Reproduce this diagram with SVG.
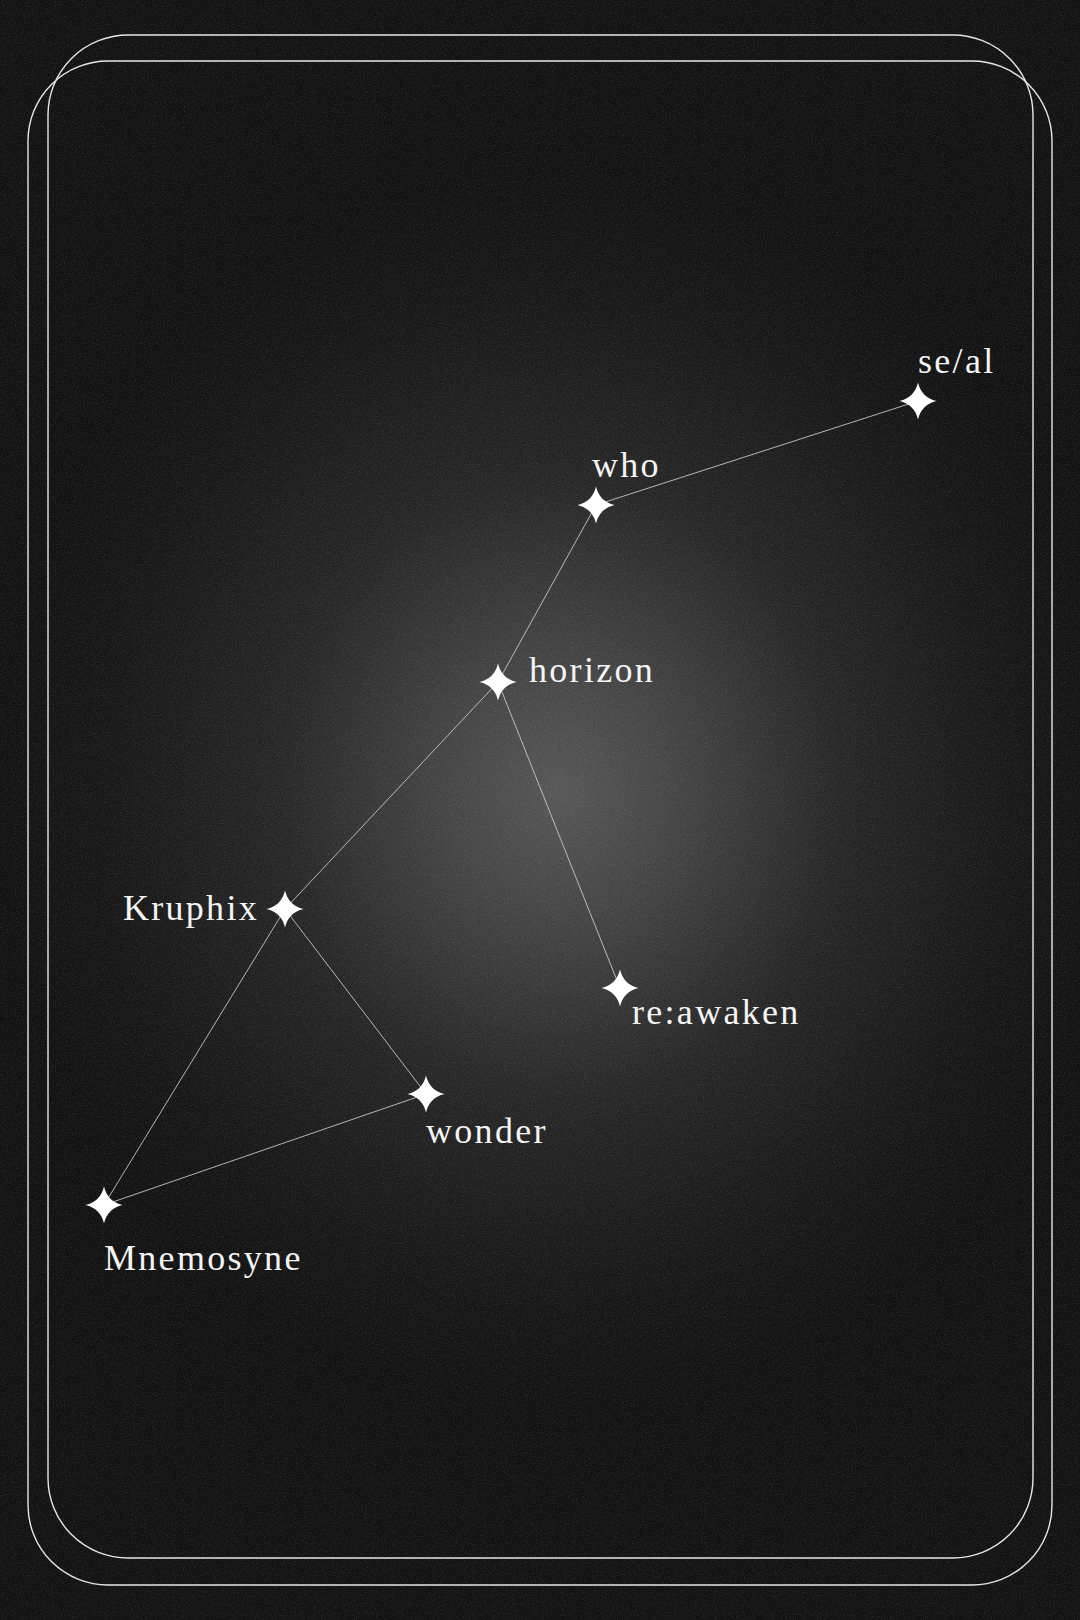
<svg xmlns="http://www.w3.org/2000/svg" width="1080" height="1620" viewBox="0 0 1080 1620">
  <defs>
    <radialGradient id="bg" gradientUnits="userSpaceOnUse" cx="560" cy="790" r="560" gradientTransform="translate(560 790) scale(1 1.1) translate(-560 -790)">
      <stop offset="0" stop-color="#575757"/>
      <stop offset="0.22" stop-color="#444444"/>
      <stop offset="0.5" stop-color="#272727"/>
      <stop offset="0.8" stop-color="#181818"/>
      <stop offset="1" stop-color="#121212"/>
    </radialGradient>
    <filter id="grain" x="0" y="0" width="100%" height="100%">
      <feTurbulence type="fractalNoise" baseFrequency="0.9" numOctaves="2" seed="3" result="n"/>
      <feColorMatrix type="matrix" values="0 0 0 0 1  0 0 0 0 1  0 0 0 0 1  0 0 0 -2.2 1.25" />
    </filter>
    <path id="star" d="M0,-18.5 Q3.5,-3.5 18.5,0 Q3.5,3.5 0,18.5 Q-3.5,3.5 -18.5,0 Q-3.5,-3.5 0,-18.5 Z"/>
  </defs>
  <style>
    .frame { fill: none; stroke: #e6e6e6; stroke-width: 1.4; }
    .edge { stroke: #cfcfcf; stroke-width: 1; stroke-opacity: 0.85; fill: none; }
    .star { fill: #ffffff; }
    .label { font-family: "Liberation Serif", "Times New Roman", serif; font-size: 36px; letter-spacing: 2.3px; fill: #f4f4f4; }
  </style>

  <rect width="1080" height="1620" fill="#121212"/>
  <rect width="1080" height="1620" fill="url(#bg)"/>
  <rect width="1080" height="1620" filter="url(#grain)" opacity="0.1"/>

  <g id="frames">
    <rect class="frame" x="48" y="35" width="985" height="1523" rx="80" ry="80"/>
    <rect class="frame" x="28" y="61" width="1024" height="1524" rx="80" ry="80"/>
  </g>

  <g id="connectors">
    <line class="edge" x1="596" y1="505" x2="918" y2="401"/>
    <line class="edge" x1="596" y1="505" x2="498" y2="682"/>
    <line class="edge" x1="498" y1="682" x2="285" y2="909"/>
    <line class="edge" x1="498" y1="682" x2="620" y2="988"/>
    <line class="edge" x1="285" y1="909" x2="426" y2="1094"/>
    <line class="edge" x1="285" y1="909" x2="104" y2="1205"/>
    <line class="edge" x1="426" y1="1094" x2="104" y2="1205"/>
  </g>

  <g id="node-seal">
    <use href="#star" class="star" x="918" y="401"/>
    <text class="label" x="918" y="373">se/al</text>
  </g>
  <g id="node-who">
    <use href="#star" class="star" x="596" y="505"/>
    <text class="label" x="592" y="477">who</text>
  </g>
  <g id="node-horizon">
    <use href="#star" class="star" x="498" y="682"/>
    <text class="label" x="529" y="682">horizon</text>
  </g>
  <g id="node-kruphix">
    <use href="#star" class="star" x="285" y="909"/>
    <text class="label" x="259" y="920" text-anchor="end">Kruphix</text>
  </g>
  <g id="node-reawaken">
    <use href="#star" class="star" x="620" y="988"/>
    <text class="label" x="632" y="1024">re:awaken</text>
  </g>
  <g id="node-wonder">
    <use href="#star" class="star" x="426" y="1094"/>
    <text class="label" x="426" y="1143">wonder</text>
  </g>
  <g id="node-mnemosyne">
    <use href="#star" class="star" x="104" y="1205"/>
    <text class="label" x="104" y="1270">Mnemosyne</text>
  </g>
</svg>
